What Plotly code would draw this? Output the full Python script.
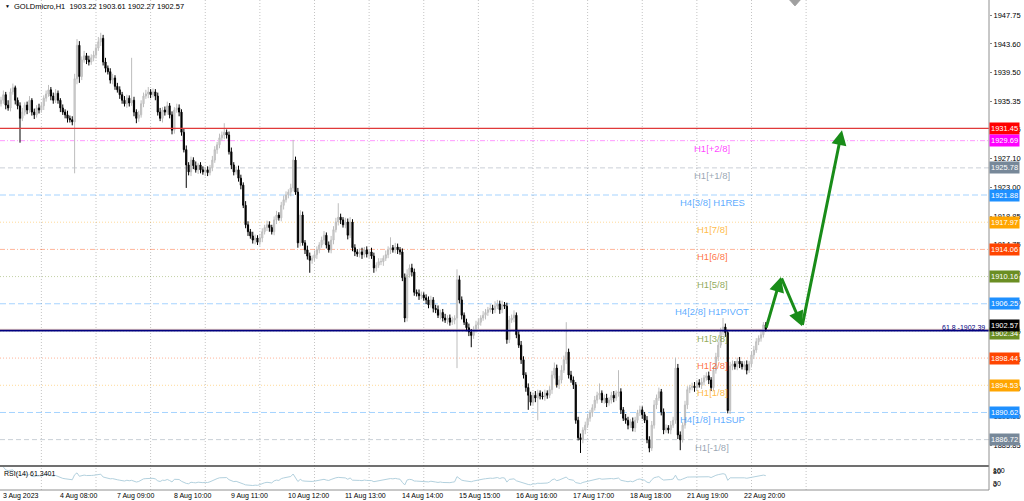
import plotly.graph_objects as go
import pandas as pd

# ---------------- data ----------------
first_open = 1935.0
closes = [
    1935.5, 1936.3, 1934.8, 1934.4, 1936.7, 1937.3, 1935.5, 1934.7, 1932.9, 1933.8,
    1934.8, 1934.1, 1935.5, 1933.8, 1933.4, 1934.4, 1934.1, 1934.7, 1935.8, 1936.4,
    1937.0, 1936.1, 1935.5, 1936.5, 1935.5, 1934.4, 1933.8, 1933.4, 1932.9, 1932.7,
    1932.4, 1938.6, 1943.4, 1938.9, 1941.3, 1941.9, 1941.3, 1941.0, 1941.6, 1942.0,
    1943.0, 1943.9, 1944.4, 1941.0, 1940.1, 1939.6, 1938.4, 1938.7, 1937.5, 1937.0,
    1936.3, 1935.5, 1935.0, 1935.8, 1935.1, 1935.5, 1933.8, 1932.9, 1933.4, 1935.0,
    1936.1, 1936.4, 1936.7, 1936.3, 1936.7, 1936.1, 1933.8, 1932.9, 1934.1, 1933.8,
    1934.7, 1933.4, 1931.2, 1934.1, 1934.4, 1933.8, 1930.9, 1928.4, 1926.2, 1925.2,
    1926.9, 1926.1, 1925.5, 1926.2, 1925.5, 1925.2, 1925.5, 1925.1, 1925.8, 1926.9,
    1928.4, 1929.1, 1930.1, 1930.5, 1930.9, 1930.5, 1928.1, 1926.2, 1925.2, 1925.5,
    1924.3, 1923.3, 1920.4, 1917.6, 1916.6, 1916.0, 1915.4, 1915.7, 1915.1, 1915.7,
    1916.6, 1917.2, 1917.6, 1917.2, 1916.6, 1918.3, 1919.0, 1918.6, 1920.4, 1921.2,
    1921.9, 1922.3, 1922.9, 1926.9, 1922.3, 1915.0, 1919.0, 1915.0, 1914.0, 1913.1,
    1912.5, 1912.8, 1913.3, 1914.0, 1914.7, 1915.4, 1916.1, 1914.7, 1914.0, 1915.4,
    1916.9, 1918.0, 1918.7, 1918.3, 1917.6, 1918.0, 1916.1, 1918.0, 1914.3, 1913.7,
    1913.4, 1913.7, 1913.3, 1914.0, 1913.4, 1913.7, 1913.1, 1911.4, 1911.8, 1912.3,
    1912.3, 1912.8, 1913.3, 1914.0, 1914.3, 1914.0, 1914.4, 1914.0, 1913.7, 1910.0,
    1904.2, 1910.4, 1911.4, 1910.8, 1907.9, 1907.7, 1907.4, 1907.5, 1907.1, 1906.8,
    1906.1, 1906.8, 1905.6, 1905.4, 1904.6, 1905.0, 1904.2, 1903.9, 1904.2, 1903.6,
    1903.9, 1904.2, 1909.7, 1906.8, 1904.6, 1903.6, 1902.8, 1902.2, 1901.7, 1902.5,
    1903.2, 1903.6, 1904.2, 1904.6, 1905.0, 1905.4, 1905.6, 1905.4, 1905.9, 1906.2,
    1905.4, 1906.1, 1905.9, 1901.1, 1903.9, 1904.2, 1904.6, 1901.8, 1900.3, 1898.2,
    1896.0, 1894.2, 1893.1, 1892.1, 1893.1, 1892.7, 1893.4, 1893.0, 1892.9, 1893.4,
    1893.1, 1893.9, 1896.0, 1897.0, 1894.6, 1895.3, 1896.7, 1898.2, 1899.3, 1896.0,
    1895.3, 1894.6, 1889.5, 1887.0, 1886.7, 1888.1, 1888.8, 1889.8, 1890.6, 1891.3,
    1892.4, 1893.1, 1893.4, 1892.4, 1892.7, 1892.0, 1892.4, 1893.1, 1892.7, 1893.4,
    1893.6, 1891.0, 1889.8, 1889.5, 1888.8, 1889.3, 1888.4, 1889.5, 1890.6, 1891.0,
    1890.3, 1889.5, 1886.7, 1885.5, 1888.8, 1891.7, 1892.7, 1893.6, 1890.7, 1888.1,
    1888.4, 1888.1, 1888.8, 1889.5, 1897.0, 1887.4, 1886.7, 1888.8, 1891.7, 1893.9,
    1894.2, 1894.4, 1894.2, 1894.9, 1894.6, 1895.0, 1895.6, 1895.9, 1895.3, 1894.2,
    1896.7, 1898.6, 1900.3, 1902.2, 1902.9, 1902.1, 1890.9, 1897.3, 1897.6, 1897.2,
    1898.0, 1897.6, 1897.2, 1897.5, 1896.7, 1897.6, 1898.9, 1899.6, 1900.8, 1901.3,
    1901.8, 1903.22, 1902.57,
]
wick_up = [
    0.5, 0.6, 0.4, 0.7, 0.5, 0.6, 0.3, 0.4, 0.5, 0.6,
    0.4, 0.5, 0.6, 0.3, 0.5, 0.4, 0.6, 0.5, 0.4, 0.5,
    0.7, 0.4, 0.5, 0.6, 0.4, 0.3, 0.5, 0.4, 0.6, 0.4,
    0.5, 0.7, 0.9, 0.6, 0.5, 0.7, 0.4, 0.6, 0.5, 0.6,
    0.6, 0.7, 0.8, 0.5, 0.6, 0.4, 0.5, 0.6, 0.4, 0.5,
    0.5, 0.4, 0.6, 0.5, 0.4, 6.1, 0.5, 0.4, 0.6, 0.5,
    0.5, 0.6, 0.7, 0.4, 0.5, 0.4, 0.5, 0.6, 0.4, 0.5,
    0.6, 0.4, 0.5, 0.4, 0.6, 0.5, 0.4, 0.5, 0.6, 0.4,
    0.5, 0.4, 0.6, 0.3, 0.4, 0.5, 0.4, 0.5, 0.4, 0.6,
    0.5, 0.4, 0.6, 0.5, 1.3, 0.4, 0.5, 0.6, 0.4, 0.5,
    0.6, 0.5, 0.4, 0.6, 0.5, 0.4, 0.6, 0.5, 0.4, 0.6,
    0.5, 0.4, 0.6, 0.5, 0.4, 0.5, 0.6, 0.4, 0.5, 0.6,
    0.5, 0.4, 0.6, 2.9, 0.5, 0.6, 0.7, 0.5, 0.4, 0.6,
    0.5, 0.4, 0.6, 0.5, 0.4, 0.5, 0.6, 0.4, 0.5, 0.6,
    0.5, 0.6, 2.0, 0.5, 0.4, 0.6, 0.5, 0.7, 0.4, 0.5,
    0.4, 0.5, 0.6, 0.4, 0.5, 0.4, 0.6, 0.5, 0.4, 0.5,
    0.5, 0.4, 0.6, 0.5, 1.5, 0.4, 0.6, 0.5, 0.4, 0.5,
    0.6, 0.8, 0.5, 0.6, 0.5, 0.4, 0.6, 0.5, 0.4, 0.5,
    0.5, 0.6, 0.4, 0.5, 0.6, 0.4, 0.5, 0.6, 0.4, 0.5,
    0.5, 0.4, 1.5, 0.6, 0.5, 0.4, 0.5, 0.6, 0.4, 0.5,
    0.6, 0.5, 0.4, 0.6, 0.5, 0.4, 0.6, 0.5, 0.7, 0.6,
    0.5, 0.6, 0.4, 0.5, 0.6, 0.5, 0.7, 0.4, 0.5, 0.6,
    0.5, 0.4, 0.6, 0.5, 0.4, 0.6, 0.5, 0.4, 0.6, 0.5,
    0.4, 0.5, 0.6, 0.8, 0.5, 0.6, 0.7, 0.6, 4.3, 0.5,
    0.6, 0.5, 0.4, 0.5, 0.6, 0.4, 0.5, 0.6, 0.4, 0.5,
    0.6, 0.5, 1.4, 0.4, 0.5, 0.6, 0.4, 0.5, 0.6, 0.4,
    3.1, 0.5, 0.4, 0.6, 0.5, 0.4, 0.6, 0.5, 0.4, 0.6,
    0.5, 0.4, 0.6, 0.5, 0.6, 0.7, 0.5, 0.6, 0.4, 0.5,
    0.5, 0.4, 0.6, 0.5, 1.5, 0.6, 0.5, 0.4, 0.6, 0.5,
    0.4, 0.5, 0.6, 0.4, 0.5, 0.6, 0.4, 0.5, 0.6, 0.4,
    0.5, 0.6, 0.5, 0.6, 1.3, 0.5, 0.4, 0.6, 0.5, 0.4,
    0.5, 0.6, 0.4, 0.5, 0.6, 0.4, 0.5, 0.6, 0.5, 0.4,
    0.5, 0.4, 0.39,
]
wick_dn = [
    0.4, 0.5, 0.6, 0.4, 0.5, 0.4, 0.6, 0.5, 3.5, 0.4,
    0.5, 0.6, 0.4, 0.5, 0.6, 0.4, 0.5, 0.4, 0.6, 0.5,
    0.4, 0.6, 0.5, 0.4, 0.5, 0.6, 0.4, 0.5, 0.6, 0.4,
    0.5, 7.4, 0.8, 0.9, 0.5, 0.4, 0.6, 0.5, 0.4, 0.5,
    0.5, 0.4, 0.6, 0.5, 0.6, 0.4, 0.5, 0.6, 0.5, 0.4,
    0.6, 0.5, 0.4, 0.6, 0.5, 0.4, 0.6, 0.7, 0.5, 0.4,
    0.5, 0.4, 0.6, 0.5, 0.4, 0.6, 0.5, 0.4, 0.6, 0.5,
    0.4, 0.5, 0.6, 0.5, 0.4, 0.6, 0.5, 0.4, 3.3, 0.5,
    0.6, 0.5, 0.4, 0.6, 0.5, 0.4, 0.6, 0.5, 0.4, 0.5,
    0.4, 0.6, 0.5, 0.4, 0.6, 0.5, 0.4, 0.6, 0.5, 0.4,
    0.5, 0.6, 0.4, 0.5, 0.6, 0.4, 0.5, 0.6, 0.4, 0.5,
    0.6, 0.4, 0.5, 0.6, 0.4, 0.5, 0.6, 0.4, 0.5, 0.6,
    0.4, 0.5, 0.6, 0.5, 0.4, 0.7, 0.5, 0.4, 0.6, 0.5,
    1.8, 0.5, 0.4, 0.6, 0.5, 0.4, 0.6, 0.5, 0.4, 0.5,
    0.6, 0.4, 0.5, 0.6, 0.4, 0.5, 0.6, 0.4, 0.5, 0.6,
    0.4, 0.5, 0.6, 0.4, 0.5, 0.6, 0.4, 0.7, 0.5, 0.4,
    0.5, 0.6, 0.4, 0.5, 0.6, 0.4, 0.5, 0.6, 0.4, 0.5,
    0.6, 0.5, 0.4, 0.6, 0.5, 0.4, 0.6, 0.5, 0.4, 0.6,
    0.5, 0.4, 0.6, 0.5, 0.4, 0.6, 0.5, 0.4, 0.6, 0.5,
    0.4, 0.6, 7.2, 0.5, 0.6, 0.4, 0.5, 0.6, 1.7, 0.5,
    0.4, 0.6, 0.5, 0.4, 0.6, 0.5, 0.4, 0.6, 0.5, 0.4,
    0.6, 0.5, 0.4, 0.6, 0.5, 0.4, 0.6, 0.5, 0.4, 0.6,
    0.5, 0.6, 2.1, 0.5, 0.4, 0.6, 3.2, 0.5, 0.4, 0.6,
    0.5, 0.4, 0.6, 0.5, 0.4, 0.6, 0.5, 0.4, 0.6, 0.5,
    0.4, 0.6, 0.5, 0.4, 1.9, 0.5, 0.6, 0.4, 0.5, 0.6,
    0.4, 0.5, 0.6, 0.4, 0.5, 0.6, 0.4, 0.5, 0.6, 0.4,
    0.5, 0.6, 0.4, 0.5, 0.6, 0.4, 0.5, 0.6, 0.4, 0.5,
    0.6, 0.4, 0.5, 0.6, 0.4, 0.5, 0.6, 0.4, 0.5, 0.6,
    0.4, 0.5, 0.6, 0.4, 0.5, 0.6, 1.5, 0.4, 0.5, 0.6,
    0.5, 0.4, 0.6, 0.5, 0.4, 0.6, 0.5, 0.4, 0.6, 0.5,
    0.4, 0.5, 0.6, 0.4, 0.5, 0.6, 0.4, 0.5, 0.6, 0.4,
    0.5, 0.6, 0.4, 0.5, 0.6, 0.4, 0.5, 0.6, 0.4, 0.5,
    0.5, 0.4, 0.3,
]

date_labels = ["3 Aug 2023", "4 Aug 08:00", "7 Aug 09:00", "8 Aug 10:00", "9 Aug 11:00",
               "10 Aug 12:00", "11 Aug 13:00", "14 Aug 14:00", "15 Aug 15:00", "16 Aug 16:00",
               "17 Aug 17:00", "18 Aug 18:00", "21 Aug 19:00", "22 Aug 20:00"]
date_label_bars = [0, 24, 48, 72, 96, 120, 144, 168, 192, 216, 240, 264, 288, 312]
day_start_bars = [17, 40, 63, 86, 109, 132, 155, 178, 201, 224, 247, 270, 293, 316, 339]

price_ticks = [1947.75, 1943.60, 1939.50, 1935.35, 1931.25, 1927.10, 1923.00, 1918.85,
               1914.75, 1910.60, 1906.50, 1902.35, 1898.25, 1894.10, 1890.00, 1885.85]

level_prices = [1929.69, 1925.78, 1921.88, 1917.97, 1914.06, 1910.16, 1906.25,
                1902.34, 1898.44, 1894.53, 1890.62, 1886.72]
level_names = ["H1[+2/8]", "H1[+1/8]", "H4[3/8] H1RES", "H1[7/8]", "H1[6/8]", "H1[5/8]",
               "H4[2/8] H1PIVOT", "H1[3/8]", "H1[2/8]", "H1[1/8]", "H4[1/8] H1SUP", "H1[-1/8]"]
level_colors = ["#ff00ff", "#778899", "#1e90ff", "#ffa500", "#ff4500", "#6b8e23", "#1e90ff",
                "#6b8e23", "#ff4500", "#ffa500", "#1e90ff", "#778899"]
level_dash = ["5px,2px,1px,2px", "5px,3px", "6px,3px", "1px,2px", "5px,2px,1px,2px", "1px,2px", "6px,3px",
              "1px,2px", "1px,2px", "1px,2px", "6px,3px", "5px,3px"]

resistance_price = 1931.45
fib_price = 1902.39
bid_price = 1902.57
ohlc_title = "GOLDmicro,H1\u00a0\u00a01903.22 1903.61 1902.27 1902.57"
rsi_title = "RSI(14) 61.3401"

arrow_x = [322, 328.4, 337.3, 354.1]
arrow_y = [1902.6, 1910.1, 1903.0, 1931.2]
shift_marker_bar = 334.3

# ---------------- derived ----------------
bars = list(range(len(closes)))
opens = [first_open] + closes[:-1]
highs = [max(o, c) + u for o, c, u in zip(opens, closes, wick_up)]
lows = [min(o, c) - d for o, c, d in zip(opens, closes, wick_dn)]

s = pd.Series(closes)
delta = s.diff()
gain = delta.clip(lower=0)
loss = -delta.clip(upper=0)
ag = gain.ewm(alpha=1 / 14, adjust=False).mean()
al = loss.ewm(alpha=1 / 14, adjust=False).mean()
rsi = (100 - 100 / (1 + ag / al)).tolist()

FONT = "Liberation Sans"

fig = go.Figure()
fig.add_trace(go.Candlestick(
    x=bars, open=opens, high=highs, low=lows, close=closes,
    increasing=dict(line=dict(color="#bdbdbd", width=1), fillcolor="#dadada"),
    decreasing=dict(line=dict(color="#000000", width=1), fillcolor="#000000"),
    whiskerwidth=0, xaxis="x", yaxis="y", showlegend=False, hoverinfo="skip",
))
fig.add_trace(go.Scatter(
    x=bars[1:], y=rsi[1:], mode="lines", line=dict(color="#b3d1de", width=1),
    xaxis="x", yaxis="y2", showlegend=False, hoverinfo="skip",
))

shapes = []
for b in day_start_bars:
    shapes.append(dict(type="line", xref="x", yref="paper", x0=b, x1=b, y0=0, y1=1,
                       line=dict(color="#c4c4c4", width=1, dash="1px,2px"), layer="below"))


def rgba(hexc, a):
    h = hexc.lstrip("#")
    return "rgba(%d,%d,%d,%.2f)" % (int(h[0:2], 16), int(h[2:4], 16), int(h[4:6], 16), a)


for p, c, d in zip(level_prices, level_colors, level_dash):
    shapes.append(dict(type="line", xref="paper", yref="y", x0=0, x1=1, y0=p, y1=p,
                       line=dict(color=rgba(c, 0.4), width=1, dash=d), layer="below"))
shapes.append(dict(type="line", xref="paper", yref="y", x0=0, x1=1, y0=bid_price, y1=bid_price,
                   line=dict(color="#e6c0b0", width=1), layer="below"))
shapes.append(dict(type="line", xref="paper", yref="y", x0=0, x1=1, y0=resistance_price,
                   y1=resistance_price, line=dict(color="#e03a3a", width=1.3)))
shapes.append(dict(type="line", xref="paper", yref="y", x0=0, x1=1, y0=fib_price, y1=fib_price,
                   line=dict(color="#000080", width=1.6)))
# panel borders
MAIN_BOTTOM = 0.049
RSI_TOP = 0.0469
shapes.append(dict(type="line", xref="paper", yref="paper", x0=0, x1=1, y0=MAIN_BOTTOM, y1=MAIN_BOTTOM,
                   line=dict(color="#404040", width=1.5)))
shapes.append(dict(type="line", xref="paper", yref="paper", x0=0, x1=1, y0=0, y1=0,
                   line=dict(color="#909090", width=1)))
shapes.append(dict(type="line", xref="paper", yref="paper", x0=1, x1=1, y0=0, y1=1,
                   line=dict(color="#909090", width=1)))
# chart-shift marker at the top
shapes.append(dict(type="path", xref="x", yref="paper",
                   path="M %.2f,1 L %.2f,1 L %.2f,0.988 Z" % (shift_marker_bar - 2.2, shift_marker_bar + 2.2,
                                                             shift_marker_bar),
                   fillcolor="#a0a0a0", line=dict(color="#a0a0a0", width=1)))

ann = []
# level texts
for p, n, c in zip(level_prices, level_names, level_colors):
    ann.append(dict(xref="paper", yref="y", x=712 / 989, y=p, text=n, showarrow=False,
                    xanchor="center", yanchor="top", font=dict(family=FONT, size=9.5, color=rgba(c, 0.75))))
# right side price boxes
box_specs = [(resistance_price, "#ff0000", 0)] + [(p, c, 0) for p, c in zip(level_prices, level_colors)]
for p, c, sh in box_specs:
    if abs(p - 1902.34) < 0.01:
        sh = -3
    ann.append(dict(xref="paper", yref="y", x=1, y=p, text="%.2f" % p, showarrow=False,
                    xanchor="left", yanchor="middle", xshift=0, yshift=sh, bgcolor=c, borderpad=1,
                    font=dict(family=FONT, size=7.5, color="#ffffff")))
ann.append(dict(xref="paper", yref="y", x=1, y=bid_price, text="%.2f" % bid_price, showarrow=False,
                xanchor="left", yanchor="middle", yshift=4, bgcolor="#000000", borderpad=1,
                font=dict(family=FONT, size=7.5, color="#ffffff")))
ann.append(dict(xref="paper", yref="y", x=1, y=fib_price, text="61.8 -%.2f" % fib_price, showarrow=False,
                xanchor="right", yanchor="bottom", xshift=-2, yshift=-2,
                font=dict(family=FONT, size=7, color="#000080")))
# title & rsi label
ann.append(dict(xref="paper", yref="paper", x=3 / 989, y=1, text="\u25bc", showarrow=False,
                xanchor="left", yanchor="top", yshift=-1, font=dict(family=FONT, size=5, color="#000000")))
ann.append(dict(xref="paper", yref="paper", x=12 / 989, y=1, text=ohlc_title, showarrow=False,
                xanchor="left", yanchor="top", yshift=0, font=dict(family=FONT, size=7.5, color="#000000")))
ann.append(dict(xref="paper", yref="y2", x=2 / 989, y=100, text=rsi_title, showarrow=False,
                xanchor="left", yanchor="top", yshift=-1, font=dict(family=FONT, size=7, color="#000000")))
# rsi scale labels
for v, t in [(84, "100"), (80, "80"), (30, "30"), (26, "0")]:
    ann.append(dict(xref="paper", yref="y2", x=1, y=v, text=t, showarrow=False, xanchor="left",
                    yanchor="middle", xshift=2, font=dict(family=FONT, size=7, color="#000000")))
# date labels
for b, t in zip(date_label_bars, date_labels):
    ann.append(dict(xref="x", yref="paper", x=b, y=0, text=t, showarrow=False, xanchor="left",
                    yanchor="top", yshift=0, font=dict(family=FONT, size=7, color="#000000")))
# forecast arrows
for k in range(len(arrow_x) - 1):
    ann.append(dict(xref="x", yref="y", axref="x", ayref="y", x=arrow_x[k + 1], y=arrow_y[k + 1],
                    ax=arrow_x[k], ay=arrow_y[k], text="", showarrow=True, arrowhead=2,
                    arrowsize=1, arrowwidth=3, arrowcolor="#198c19", standoff=0))

fig.update_layout(
    width=1024, height=501,
    margin=dict(l=0, r=35, t=0, b=11),
    paper_bgcolor="#ffffff", plot_bgcolor="#ffffff",
    xaxis=dict(range=[-0.42, 416.0], showgrid=False, zeroline=False, showticklabels=False,
               rangeslider=dict(visible=False), anchor="y2", fixedrange=True),
    yaxis=dict(domain=[MAIN_BOTTOM, 1], range=[1882.93, 1949.91], side="right", showgrid=False,
               zeroline=False, tickvals=price_ticks, ticktext=["%.2f" % v for v in price_ticks],
               tickfont=dict(family=FONT, size=7.5, color="#000000"), ticks="outside", ticklen=2,
               tickcolor="#808080", anchor="x"),
    yaxis2=dict(domain=[0, RSI_TOP], range=[0, 100], side="right", showgrid=False, zeroline=False,
                showticklabels=False, anchor="x"),
    shapes=shapes, annotations=ann, showlegend=False,
)

fig.write_html("out.html", config={"displayModeBar": False},
               post_script="document.body.style.margin='0';document.body.style.overflow='hidden';")
